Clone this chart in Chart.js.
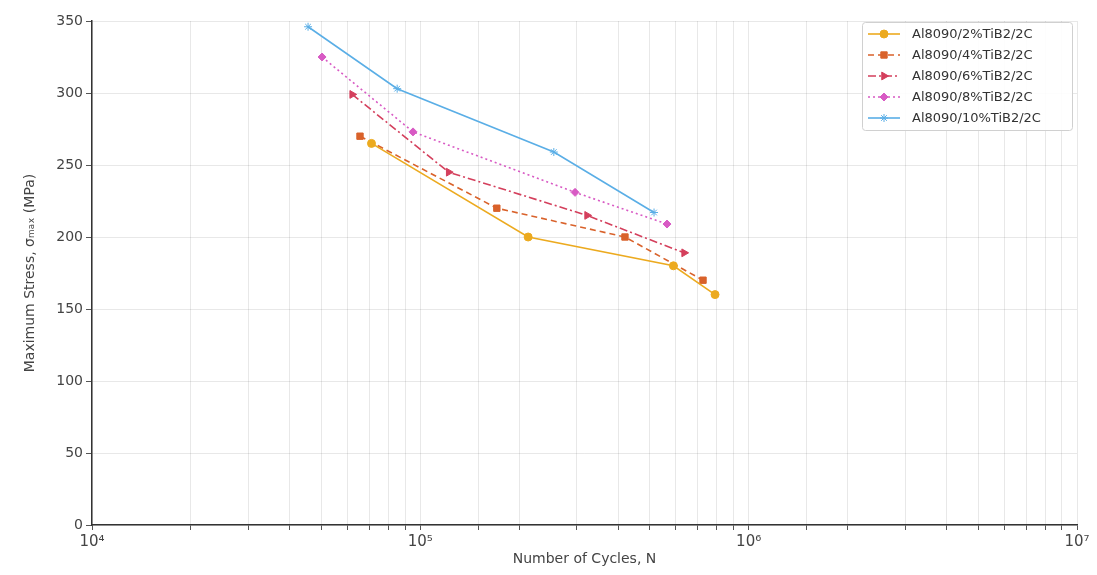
<!DOCTYPE html>
<html lang="en">
<head>
    <meta charset="UTF-8">
    <title>S-N curves Al8090/TiB2/2C</title>
    <script src="https://cdn.jsdelivr.net/npm/chart.js"></script>
    <style>
        * { margin: 0; padding: 0; box-sizing: border-box; }
        body { background: #fff; width: 1097px; height: 575px; overflow: hidden; }
        .chart-container { width: 1097px; height: 575px; position: relative; }
    </style>
</head>
<body>
    <div class="chart-container">
        <canvas id="sn-chart" width="1097" height="575"></canvas>
    </div>

    <script>
        // series labels
        const seriesLabels = ["Al8090/2%TiB2/2C", "Al8090/4%TiB2/2C", "Al8090/6%TiB2/2C", "Al8090/8%TiB2/2C", "Al8090/10%TiB2/2C"];

        // number of cycles (N) and max stress (MPa)
        const cycles2 = [71000, 213000, 590000, 790000];
        const stress2 = [265, 200, 180, 160];
        const cycles4 = [65500, 171000, 420000, 726000];
        const stress4 = [270, 220, 200, 170];
        const cycles6 = [62000, 122000, 322000, 636000];
        const stress6 = [299, 245, 215, 189];
        const cycles8 = [50200, 95000, 296000, 564000];
        const stress8 = [325, 273, 231, 209];
        const cycles10 = [45500, 85000, 255000, 515000];
        const stress10 = [346, 303, 259, 217];

        const xTickLabels = { 10000: "10\u2074", 100000: "10\u2075", 1000000: "10\u2076", 10000000: "10\u2077" };
        const yTicks = [0, 50, 100, 150, 200, 250, 300, 350];

        const colors = ["#ecaa1f", "#d9622b", "#d43f5c", "#d85ac4", "#5aaee6"];

        function pts(xs, ys) {
            return xs.map((x, i) => ({ x: x, y: ys[i] }));
        }

        const datasets = [
            { label: seriesLabels[0], data: pts(cycles2, stress2), borderColor: colors[0], backgroundColor: colors[0],
              borderDash: [], pointStyle: 'circle', pointRadius: 4, pointRotation: 0 },
            { label: seriesLabels[1], data: pts(cycles4, stress4), borderColor: colors[1], backgroundColor: colors[1],
              borderDash: [6, 4], pointStyle: 'rect', pointRadius: 4.5, pointRotation: 0 },
            { label: seriesLabels[2], data: pts(cycles6, stress6), borderColor: colors[2], backgroundColor: colors[2],
              borderDash: [8, 3, 2, 3], pointStyle: 'triangle', pointRadius: 4.5, pointRotation: 90 },
            { label: seriesLabels[3], data: pts(cycles8, stress8), borderColor: colors[3], backgroundColor: colors[3],
              borderDash: [2, 3], pointStyle: 'rectRot', pointRadius: 4, pointRotation: 0 },
            { label: seriesLabels[4], data: pts(cycles10, stress10), borderColor: colors[4], backgroundColor: colors[4],
              borderDash: [], pointStyle: 'star', pointRadius: 4, pointRotation: 0 }
        ];
        datasets.forEach(d => {
            d.borderWidth = 1.6;
            d.pointBorderWidth = 1;
            d.fill = false;
            d.tension = 0;
        });

        // legend box drawn inside the plot, top right, with line + marker samples
        const boxLegend = {
            id: 'boxLegend',
            afterDraw(chart) {
                const ctx = chart.ctx;
                const area = chart.chartArea;
                const bw = 210, bh = 108;
                const bx = area.right - bw - 5, by = area.top + 1;
                ctx.save();
                ctx.fillStyle = 'rgba(255,255,255,0.9)';
                ctx.strokeStyle = '#d0d0d0';
                ctx.lineWidth = 1;
                ctx.beginPath();
                ctx.roundRect(bx + 0.5, by + 0.5, bw, bh, 3);
                ctx.fill();
                ctx.stroke();
                ctx.font = '13px "DejaVu Sans", sans-serif';
                ctx.textBaseline = 'middle';
                chart.data.datasets.forEach((ds, i) => {
                    const y = by + 12 + i * 21;
                    ctx.strokeStyle = ds.borderColor;
                    ctx.lineWidth = ds.borderWidth;
                    ctx.setLineDash(ds.borderDash);
                    ctx.beginPath();
                    ctx.moveTo(bx + 6, y);
                    ctx.lineTo(bx + 38, y);
                    ctx.stroke();
                    ctx.setLineDash([]);
                    ctx.fillStyle = ds.backgroundColor;
                    ctx.lineWidth = 1;
                    Chart.helpers.drawPoint(ctx, {
                        pointStyle: ds.pointStyle, radius: ds.pointRadius,
                        rotation: ds.pointRotation, borderWidth: 1
                    }, bx + 22, y);
                    ctx.fillStyle = '#333';
                    ctx.fillText(ds.label, bx + 50, y + 1);
                });
                ctx.restore();
            }
        };

        const chartConfig = {
            type: 'line',
            data: { datasets: datasets },
            options: {
                responsive: false,
                animation: false,
                layout: { padding: { left: 22, right: 20, top: 21, bottom: 0 } },
                plugins: {
                    legend: { display: false },
                    tooltip: { enabled: false }
                },
                scales: {
                    x: {
                        type: 'logarithmic',
                        min: 10000,
                        max: 10000000,
                        grid: { color: 'rgba(0,0,0,0.09)', tickLength: 5, tickColor: '#555' },
                        border: { display: true, color: '#333', width: 1.5 },
                        ticks: {
                            autoSkip: false,
                            maxRotation: 0,
                            padding: 3,
                            color: '#444',
                            font: { family: 'DejaVu Sans', size: 15 },
                            callback: v => xTickLabels[v] || ''
                        },
                        title: {
                            display: true,
                            text: 'Number of Cycles, N',
                            color: '#444',
                            font: { family: 'DejaVu Sans', size: 14 },
                            padding: { top: 0, bottom: 7 }
                        },
                        afterFit: s => { s.height = 50; }
                    },
                    y: {
                        min: 0,
                        max: 350,
                        afterBuildTicks: s => { s.ticks = yTicks.map(v => ({ value: v })); },
                        grid: { color: 'rgba(0,0,0,0.09)', tickLength: 6, tickColor: '#555' },
                        border: { display: true, color: '#333', width: 1.5 },
                        ticks: {
                            padding: 3,
                            color: '#444',
                            font: { family: 'DejaVu Sans', size: 14 }
                        },
                        title: {
                            display: true,
                            text: 'Maximum Stress, \u03C3\u2098\u2090\u2093 (MPa)',
                            color: '#444',
                            font: { family: 'DejaVu Sans', size: 14 },
                            padding: { top: 0, bottom: 4 }
                        },
                        afterFit: s => { s.width = 70; }
                    }
                }
            },
            plugins: [boxLegend]
        };

        const ctx = document.getElementById('sn-chart').getContext('2d');
        new Chart(ctx, chartConfig);
    </script>
</body>
</html>
